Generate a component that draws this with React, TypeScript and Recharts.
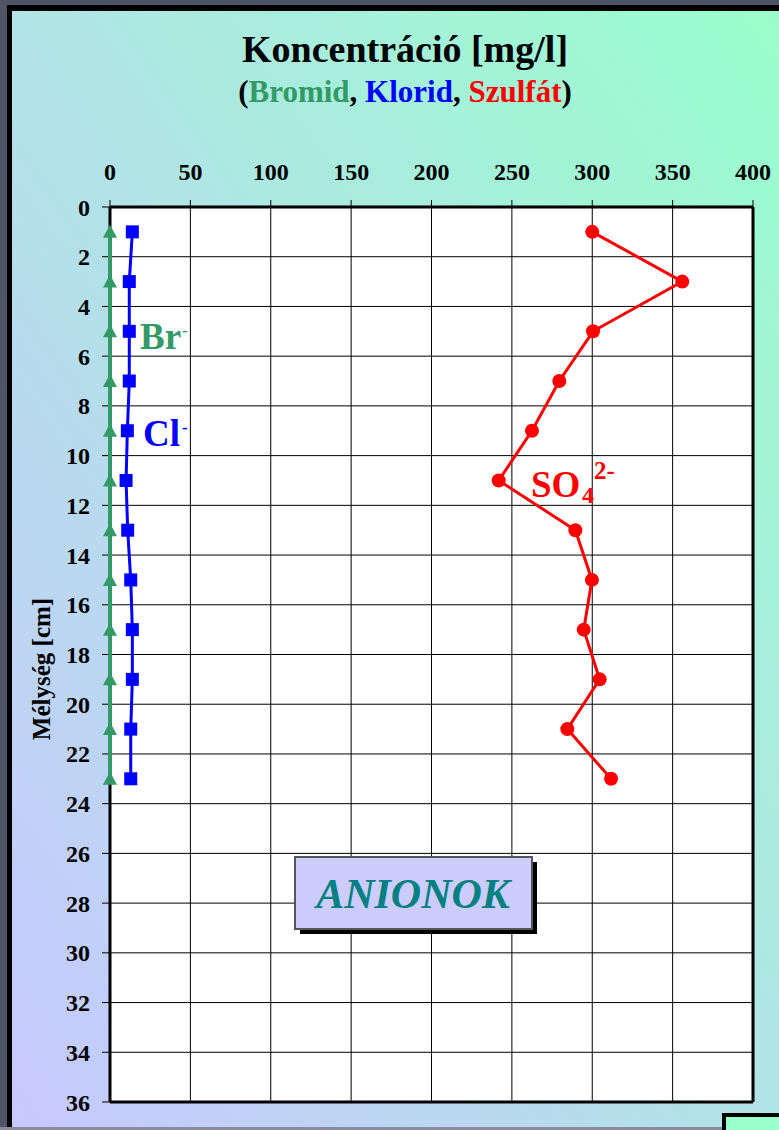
import React from 'react';
import { ScatterChart, Scatter, XAxis, YAxis, CartesianGrid } from 'recharts';

// Depth (cm) of the samples
const depths = [1, 3, 5, 7, 9, 11, 13, 15, 17, 19, 21, 23];
// Concentrations (mg/l)
const bromid = [0, 0, 0, 0, 0, 0, 0, 0, 0, 0, 0, 0];
const klorid = [13.9, 12, 12, 12, 10.8, 10, 11, 12.9, 13.9, 13.9, 12.9, 12.9];
const szulfat = [300, 356, 300.5, 279.5, 262.5, 241.8, 289.5, 299.8, 294.7, 304.6, 284.5, 311.7];
// Tick labels
const xTicks = [0, 50, 100, 150, 200, 250, 300, 350, 400];
const yTicks = [0, 2, 4, 6, 8, 10, 12, 14, 16, 18, 20, 22, 24, 26, 28, 30, 32, 34, 36];

const GREEN = '#339966';
const BLUE = '#0000ff';
const RED = '#ff0000';
const FONT = "'Liberation Serif', 'Times New Roman', serif";

const toPoints = (vals: number[]) => vals.map((v, i) => ({ x: v, y: depths[i] }));
const brData = toPoints(bromid);
const clData = toPoints(klorid);
const so4Data = toPoints(szulfat);

const Triangle = (p: any) => {
  const { cx, cy } = p;
  return <polygon points={`${cx},${cy - 7} ${cx - 7},${cy + 6} ${cx + 7},${cy + 6}`} fill={GREEN} />;
};
const Square = (p: any) => {
  const { cx, cy } = p;
  return <rect x={cx - 6.5} y={cy - 6.5} width={13} height={13} fill={BLUE} />;
};
const Circle = (p: any) => {
  const { cx, cy } = p;
  return <circle cx={cx} cy={cy} r={7} fill={RED} />;
};

const tickStyle = { fontFamily: FONT, fontWeight: 'bold' as const, fontSize: 24, fill: '#000' };

// Frame of the plot area, taken from the chart's own layout offsets
const frameVertical = (props: any) => {
  const o = props.offset;
  return [o.left, o.left + o.width];
};
const frameHorizontal = (props: any) => {
  const o = props.offset;
  return [o.top, o.top + o.height];
};

export default function App() {
  return (
    <div style={{ position: 'absolute', left: 0, top: 0, width: 779, height: 1130, overflow: 'hidden', background: '#4e5566' }}>
      <div style={{ position: 'absolute', left: 0, top: 1127, width: 779, height: 3, background: '#8a8aa0' }} />
      <div style={{ position: 'absolute', left: 7, top: 5, width: 772, height: 1122, background: '#000' }} />
      <div
        style={{
          position: 'absolute',
          left: 12,
          top: 11,
          width: 767,
          height: 1116,
          background: 'linear-gradient(to top right, #c8c8ff, #99ffcc)',
        }}
      />
      <div
        style={{
          position: 'absolute',
          left: 722,
          top: 1113,
          width: 100,
          height: 50,
          border: '4px solid #000',
          background: '#99ffcc',
        }}
      />
      <div style={{ position: 'absolute', left: 0, top: 0 }}>
        <ScatterChart width={779} height={1130} margin={{ top: 177, right: 26, bottom: 28, left: 50 }}>
          <CartesianGrid stroke="#000" strokeWidth={1} fill="#fff" fillOpacity={1} />
          <CartesianGrid
            stroke="#000"
            strokeWidth={3}
            fill="none"
            verticalCoordinatesGenerator={frameVertical}
            horizontalCoordinatesGenerator={frameHorizontal}
          />
          <XAxis
            type="number"
            dataKey="x"
            orientation="top"
            domain={[0, 400]}
            ticks={xTicks}
            interval={0}
            height={30}
            tick={tickStyle}
            tickSize={7}
            tickMargin={20}
            tickLine={{ stroke: '#000' }}
            axisLine={false}
          />
          <YAxis
            type="number"
            dataKey="y"
            domain={[0, 36]}
            reversed
            ticks={yTicks}
            interval={0}
            width={60}
            tick={tickStyle}
            tickSize={8}
            tickMargin={12}
            tickLine={{ stroke: '#000' }}
            axisLine={false}
          />
          <Scatter
            name="Bromid"
            data={brData}
            fill={GREEN}
            stroke={GREEN}
            strokeWidth={4}
            line={{ stroke: GREEN, strokeWidth: 4 }}
            lineType="joint"
            shape={Triangle}
            isAnimationActive={false}
          />
          <Scatter
            name="Klorid"
            data={clData}
            fill={BLUE}
            line={{ stroke: BLUE, strokeWidth: 3 }}
            lineType="joint"
            shape={Square}
            isAnimationActive={false}
          />
          <Scatter
            name="Szulfát"
            data={so4Data}
            fill={RED}
            line={{ stroke: RED, strokeWidth: 3 }}
            lineType="joint"
            shape={Circle}
            isAnimationActive={false}
          />
        </ScatterChart>
      </div>
      <svg
        width={779}
        height={1130}
        style={{ position: 'absolute', left: 0, top: 0, pointerEvents: 'none' }}
        fontFamily={FONT}
        fontWeight="bold"
      >
        <text x={405} y={62} textAnchor="middle" fontSize={38} fill="#000">
          Koncentráció [mg/l]
        </text>
        <text x={405} y={102} textAnchor="middle" fontSize={31} fill="#000">
          (<tspan fill={GREEN}>Bromid</tspan>, <tspan fill={BLUE}>Klorid</tspan>, <tspan fill={RED}>Szulfát</tspan>)
        </text>
        <text x={0} y={0} transform="translate(50, 669) rotate(-90)" textAnchor="middle" fontSize={25} fill="#000">
          Mélység [cm]
        </text>
        <text x={140} y={349} fontSize={37} fill={GREEN}>
          Br
        </text>
        <text x={182} y={336} fontSize={17} fill={GREEN}>
          -
        </text>
        <text x={143} y={446} fontSize={37} fill={BLUE}>
          Cl
        </text>
        <text x={182} y={433} fontSize={17} fill={BLUE}>
          -
        </text>
        <text x={531} y={497} fontSize={37} fill={RED}>
          SO
        </text>
        <text x={582} y={503} fontSize={24} fill={RED}>
          4
        </text>
        <text x={594} y={479} fontSize={25} fill={RED}>
          2-
        </text>
        <rect x={300} y={862} width={237} height={72} fill="#000" />
        <rect x={295} y={857} width={237} height={72} fill="#ccccff" stroke="#555" strokeWidth={2} />
        <text x={413} y={908} textAnchor="middle" fontSize={42} fontStyle="italic" fill="#008080">
          ANIONOK
        </text>
      </svg>
    </div>
  );
}
